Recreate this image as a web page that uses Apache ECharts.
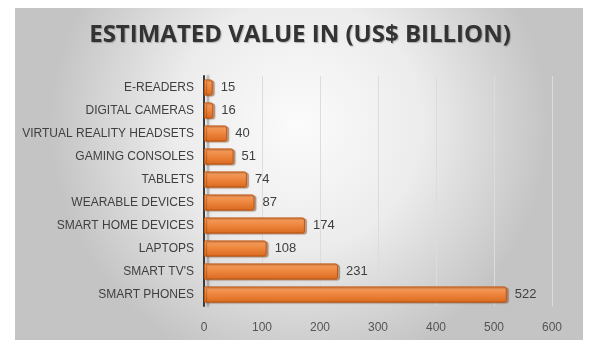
<!DOCTYPE html>
<html>
<head>
<meta charset="utf-8">
<script src="https://cdn.jsdelivr.net/npm/echarts@6/dist/echarts.min.js"></script>
<style>
  html, body { margin: 0; padding: 0; background: #fff; }
  #chart { width: 600px; height: 350px; }
</style>
</head>
<body>
<div id="chart"></div>
<script>
// categories, top to bottom
var categories = [
  "E-READERS", "DIGITAL CAMERAS", "VIRTUAL REALITY HEADSETS", "GAMING CONSOLES",
  "TABLETS", "WEARABLE DEVICES", "SMART HOME DEVICES", "LAPTOPS", "SMART TV'S", "SMART PHONES"
];
var values = [15, 16, 40, 51, 74, 87, 174, 108, 231, 522];
var xTicks = [0, 100, 200, 300, 400, 500, 600];

var myChart = echarts.init(document.getElementById("chart"));
myChart.setOption({
  backgroundColor: "#ffffff",
  animation: false,
  textStyle: { fontFamily: "Liberation Sans" },
  graphic: [
    {
      // gray panel behind the chart
      type: "rect",
      z: -10,
      silent: true,
      shape: { x: 15, y: 8, width: 568, height: 332 },
      style: {
        fill: {
          type: "radial", x: 0.5, y: 0.35, r: 0.75,
          colorStops: [
            { offset: 0, color: "#fbfbfb" },
            { offset: 0.5, color: "#ececec" },
            { offset: 1, color: "#c4c4c4" }
          ]
        }
      }
    }
  ],
  title: {
    text: "ESTIMATED VALUE IN (US$ BILLION)",
    left: "center",
    top: 18,
    textStyle: {
      fontFamily: "Open Sans",
      fontSize: 24,
      fontWeight: "bold",
      color: "#333333",
      textShadowColor: "rgba(0,0,0,0.25)",
      textShadowOffsetX: 1,
      textShadowOffsetY: 1,
      textShadowBlur: 1
    }
  },
  grid: { left: 204, right: 48, top: 76, bottom: 44 },
  xAxis: {
    type: "value",
    min: xTicks[0],
    max: xTicks[xTicks.length - 1],
    interval: 100,
    axisLine: { show: false },
    axisTick: { show: false },
    axisLabel: { color: "#555", fontSize: 12, margin: 16 },
    splitLine: { show: true, lineStyle: { color: "#dcdcdc", width: 1 } }
  },
  yAxis: {
    type: "category",
    inverse: true,
    data: categories,
    axisTick: { show: false },
    axisLine: {
      show: true,
      lineStyle: {
        color: "#3a3a3a", width: 2,
        shadowColor: "rgba(110,110,110,0.6)", shadowOffsetX: 4, shadowBlur: 2
      }
    },
    axisLabel: { color: "#3f3f3f", fontSize: 12, margin: 10 }
  },
  series: [
    {
      type: "bar",
      data: values,
      barWidth: "70%",
      itemStyle: {
        color: {
          type: "linear", x: 0, y: 0, x2: 0, y2: 1,
          colorStops: [
            { offset: 0, color: "#f3a266" },
            { offset: 0.5, color: "#ee853c" },
            { offset: 1, color: "#d8691f" }
          ]
        },
        borderColor: "#c0550f",
        borderWidth: 1,
        borderRadius: [0, 2, 2, 0],
        shadowColor: "rgba(120,60,20,0.45)",
        shadowOffsetX: 2,
        shadowOffsetY: 1,
        shadowBlur: 1
      },
      label: {
        show: true,
        position: "right",
        distance: 8,
        color: "#404040",
        fontSize: 13
      }
    }
  ]
});
</script>
</body>
</html>
